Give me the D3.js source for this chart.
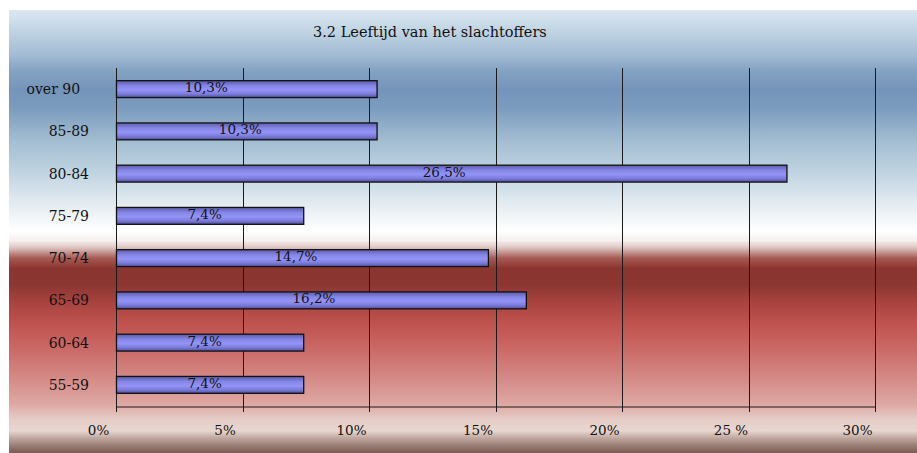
<!DOCTYPE html>
<html>
<head>
<meta charset="utf-8">
<script src="https://cdn.jsdelivr.net/npm/d3@7"></script>
<style>
  body { margin: 0; background: #fff; }
  text { font-family: "DejaVu Serif", serif; fill: #111; }
</style>
</head>
<body>
<script>
let width = 917;
let height = 453;

// data
let categories = ['over 90', '85-89', '80-84', '75-79', '70-74', '65-69', '60-64', '55-59'];
let values = [10.3, 10.3, 26.5, 7.4, 14.7, 16.2, 7.4, 7.4];
let valueLabels = ['10,3%', '10,3%', '26,5%', '7,4%', '14,7%', '16,2%', '7,4%', '7,4%'];
let tickValues = [0, 5, 10, 15, 20, 25, 30];
let tickLabels = ['0%', '5%', '10%', '15%', '20%', '25 %', '30%'];
let title = '3.2 Leeftijd van het slachtoffers';

// small nudges for the value labels (the original isn't consistent)
let labelNudge = [-40, -6, -7, -5, -6, -7, -5, -5];

let svg = d3.select('body').append('svg')
    .attr('width', width)
    .attr('height', height);

let defs = svg.append('defs');

// background gradient: blue sky on top, red below
let bg = defs.append('linearGradient')
    .attr('id', 'bg')
    .attr('x1', 0).attr('y1', 0).attr('x2', 0).attr('y2', 1);
let bgStops = [
    [0, '#dbe8f1'], [0.10, '#a3bdd4'], [0.135, '#85a3c3'], [0.18, '#7594b9'],
    [0.22, '#7b9bbe'], [0.29, '#a0bbd0'], [0.38, '#c7d8e4'], [0.46, '#eef3f6'],
    [0.50, '#ffffff'], [0.52, '#f6f0ef'], [0.535, '#e0cac7'], [0.56, '#a65a54'],
    [0.583, '#8b3530'], [0.62, '#8c3632'], [0.66, '#a8433f'], [0.71, '#c0534f'],
    [0.77, '#cb6b68'], [0.835, '#d58c88'], [0.89, '#dea8a4'], [0.925, '#e6cdc7'],
    [0.95, '#e8d6d0'], [0.966, '#c0a8a0'], [0.983, '#9a7e76'], [1, '#7a5c55']
];
bg.selectAll('stop').data(bgStops).enter().append('stop')
    .attr('offset', d => d[0])
    .attr('stop-color', d => d[1]);

// bar gradient
let barGrad = defs.append('linearGradient')
    .attr('id', 'bar')
    .attr('x1', 0).attr('y1', 0).attr('x2', 0).attr('y2', 1);
[[0, '#5a5aa8'], [0.3, '#8585e6'], [0.55, '#9494f8'], [0.8, '#7a7ad8'], [1, '#50509a']]
    .forEach(s => barGrad.append('stop').attr('offset', s[0]).attr('stop-color', s[1]));

svg.append('rect')
    .attr('x', 9).attr('y', 10)
    .attr('width', width - 9).attr('height', height - 10)
    .attr('fill', 'url(#bg)');

svg.append('text')
    .attr('x', 313).attr('y', 37)
    .style('font-size', '14.5px')
    .text(title);

let x = d3.scaleLinear()
    .domain([0, 30])
    .range([116, 875]);

let y = d3.scaleBand()
    .domain(categories)
    .range([68, 406])
    .paddingInner(0.6)
    .paddingOuter(0.3);

// grid lines
let g = svg.append('g');
g.selectAll('line.grid')
    .data(tickValues)
    .enter().append('line')
    .attr('class', 'grid')
    .attr('x1', d => Math.round(x(d)) + 0.5)
    .attr('x2', d => Math.round(x(d)) + 0.5)
    .attr('y1', 68)
    .attr('y2', 412)
    .attr('stroke', '#1a1a1a')
    .attr('stroke-width', 1);

// x axis
let xAxis = d3.axisBottom(x)
    .tickValues(tickValues)
    .tickSize(0)
    .tickFormat((d, i) => tickLabels[i]);
let axisG = svg.append('g')
    .attr('transform', 'translate(0,406.5)')
    .call(xAxis);
axisG.select('.domain').attr('stroke', '#1a1a1a');
axisG.selectAll('text')
    .attr('dx', -18)
    .attr('y', 19)
    .style('font-size', '13.5px')
    .style('font-family', '"DejaVu Serif", serif')
    .attr('fill', '#111');

// bars
svg.selectAll('rect.bar')
    .data(values)
    .enter().append('rect')
    .attr('class', 'bar')
    .attr('x', x(0) + 0.5)
    .attr('y', (d, i) => y(categories[i]))
    .attr('width', d => x(d) - x(0))
    .attr('height', y.bandwidth())
    .attr('fill', 'url(#bar)')
    .attr('stroke', '#111')
    .attr('stroke-width', 1.3);

// value labels
svg.selectAll('text.val')
    .data(values)
    .enter().append('text')
    .attr('class', 'val')
    .attr('x', (d, i) => (x(0) + x(d)) / 2 + labelNudge[i])
    .attr('y', (d, i) => y(categories[i]) + y.bandwidth() / 2 + 3)
    .attr('text-anchor', 'middle')
    .style('font-size', '13.5px')
    .text((d, i) => valueLabels[i]);

// category labels
svg.selectAll('text.cat')
    .data(categories)
    .enter().append('text')
    .attr('class', 'cat')
    .attr('x', 89)
    .attr('y', d => y(d) + y.bandwidth() / 2 + 5)
    .attr('text-anchor', 'end')
    .style('font-size', '14px')
    .text(d => d === 'over 90' ? d + '\u00a0\u00a0' : d);
</script>
</body>
</html>
